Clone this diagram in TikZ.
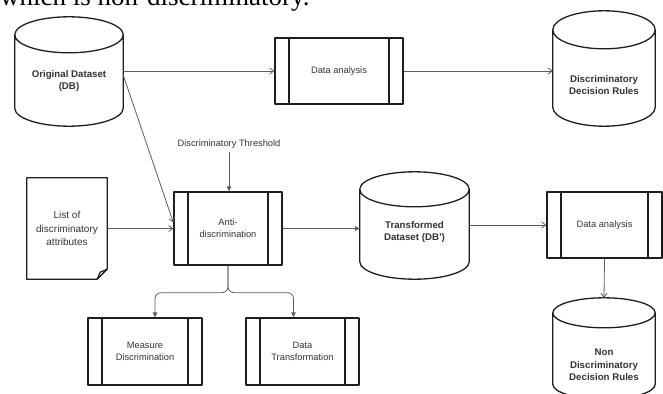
\documentclass[tikz,border=0pt]{standalone}
\usepackage{fontspec}
\setmainfont{Liberation Sans}
\newfontfamily\captfont{Liberation Serif}
\usetikzlibrary{arrows.meta,calc}

\definecolor{edge}{HTML}{1E1E1E}
\definecolor{wire}{HTML}{5C5C5C}
\definecolor{ink}{HTML}{333333}

% database drum round a node: node, cap radius, cap centre above north
\newcommand{\dbshape}[3]{%
 \draw[boxline] let \p1=(#1.north west), \p2=(#1.south east), \n1={(\x2-\x1)/2} in
   ([yshift=#3]#1.north west) -- ([yshift=#2]#1.south west)
   arc[start angle=180, end angle=360, x radius=\n1, y radius=#2]
   -- ([yshift=#3]#1.north east)
   ([yshift=#3]#1.north) ellipse[x radius=\n1, y radius=#2];
}

\begin{document}
\begin{tikzpicture}[x=1pt,y=1pt,line join=round]
 	\tikzstyle{boxline}=[draw=edge,line width=1.3pt]
 	\tikzstyle{txt}=[text=ink,font=\fontsize{9.3}{12}\selectfont,align=center]
 	\tikzstyle{btxt}=[text=ink,font=\fontsize{9.7}{12.5}\selectfont\bfseries,align=center]
 	\tikzstyle{proc}=[boxline,txt,inner sep=0pt,minimum height=67pt,
 		path picture={\draw[edge,line width=1.3pt]
 			([xshift=14pt]path picture bounding box.north west) -- ([xshift=14pt]path picture bounding box.south west)
 			([xshift=-14pt]path picture bounding box.north east) -- ([xshift=-14pt]path picture bounding box.south east);}]
 	\tikzstyle{store}=[btxt,inner sep=0pt]
 	\tikzstyle{flow}=[draw=wire,line width=0.8pt,-{Straight Barb[length=4pt,width=6pt]}]
 	\tikzstyle{push}=[draw=wire,line width=0.8pt,-{Triangle[length=5pt,width=4.5pt]}]

 	\useasboundingbox (0,0) rectangle (663,-393);
 	\clip (0,0) rectangle (663,-393);

 	% caption line cut by the top edge
 	\node[anchor=base west,inner sep=0pt,font=\captfont\fontsize{27}{27}\selectfont] (capt) at (0,-5.5) {which is non-discriminatory.};

 	% stores
 	\node[store,minimum width=108pt,minimum height=90pt] 	(db)	at (69,-81)		{Original Dataset\\(DB)};
 	\node[store,minimum width=102pt,minimum height=82pt] 	(rules)	at (604,-85)	{Discriminatory\\Decision Rules};
 	\node[store,minimum width=109pt,minimum height=94pt] 	(tdb)	at (414.5,-232)	{Transformed\\Dataset (DB')};
 	\node[store,minimum width=102pt,minimum height=68pt] 	(nd)	at (604,-365)	{Non\\Discriminatory\\Decision Rules};
 	\dbshape{db}{18pt}{1pt}
 	\dbshape{rules}{19pt}{14pt}
 	\dbshape{tdb}{17.5pt}{-4.5pt}
 	\dbshape{nd}{15pt}{18pt}

 	% processes
 	\node[proc,minimum width=128pt,minimum height=66pt] 	(da1)	at (339,-71)		{Data analysis};
 	\node[proc,minimum width=108pt,minimum height=73pt] 	(anti)	at (228,-228.5)	{Anti-\\discrimination};
 	\node[proc,minimum width=115pt,minimum height=66pt] 	(da2)	at (604.5,-225)	{Data analysis};
 	\node[proc,minimum width=114pt] 	(md)	at (145,-351.5)	{Measure\\Discrimination};
 	\node[proc,minimum width=113pt] 	(dt)	at (302.5,-351.5)	{Data\\Transformation};

 	% attribute list sheet
 	\node[txt,font=\fontsize{10}{13.5}\selectfont,minimum width=80pt,minimum height=101pt] (list) at (67,-228.5) {List of\\discriminatory\\attributes};
 	\draw[boxline] (list.north west) -- (list.north east) -- ([yshift=10pt]list.south east)
 		-- ([xshift=-10pt]list.south east) -- (list.south west) -- cycle;
 	\draw[boxline] ([xshift=-10pt]list.south east) -- ([shift={(-7pt,7pt)}]list.south east) -- ([yshift=10pt]list.south east);

 	\node[txt] (thr) at (229,-144) {Discriminatory Threshold};

 	% connectors
 	\draw[flow] (db.east |- da1.west) -- (da1.west);
 	\draw[flow] (da1.east) -- (da1.east -| rules.west);
 	\draw[flow] ([yshift=6pt]db.east) -- ([yshift=6pt]anti.west);
 	\draw[flow] (list.east) -- (anti.west);
 	\draw[push] (thr.south) -- (thr.south |- anti.north);
 	\draw[push] (anti.east) -- (anti.east -| tdb.west);
 	\draw[flow] (tdb.east |- da2.west) -- (da2.west);
 	\draw[flow] (da2.south) -- ([yshift=33pt]nd.north);
 	\draw[push,rounded corners=6pt] (anti.south) -- ++(0,-27) -| ([xshift=10pt]md.north);
 	\draw[push,rounded corners=6pt] (anti.south) -- ++(0,-27) -| ([xshift=-9pt]dt.north);
\end{tikzpicture}
\end{document}
